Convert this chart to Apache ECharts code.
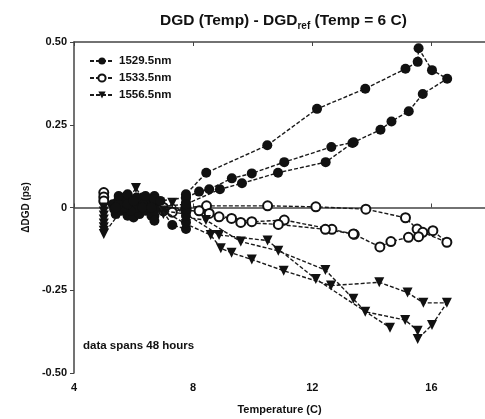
<!DOCTYPE html>
<html>
<head>
<meta charset="utf-8">
<script src="https://cdn.jsdelivr.net/npm/echarts@6/dist/echarts.min.js"></script>
<style>
  html, body { margin: 0; padding: 0; background: #fff; }
  #chart { width: 485px; height: 419px; }
</style>
</head>
<body>
<div id="chart"></div>
<script>
var temp1529 = [5.3,5.4,5.5,5.6,5.7,5.8,5.9,6.0,6.1,6.2,6.3,6.4,6.5,6.6,6.7,6.7,6.7,6.7,6.7,
  6.5,6.3,6.1,5.9,5.7,5.5,5.35,5.5,5.8,6.1,6.4,6.7,7.3,7.76,7.76,7.76,7.76,7.76,7.76,7.76,
  8.44,10.49,12.16,13.78,15.13,15.54,15.57,16.02,16.53,15.71,15.24,14.66,14.29,13.39,12.64,11.06,9.97,9.30,8.54,8.2,
  7.76,6.9,6.3,5.8,5.4,6.0,6.6,7.76,
  8.9,9.64,10.85,12.45,13.35];
var dgd1529 = [0.01,-0.02,0.025,-0.01,0.03,-0.025,0.02,-0.03,0.01,-0.02,0.03,-0.01,0.02,-0.025,0.035,0.015,-0.005,-0.025,-0.04,
  0.0,0.01,0.0,-0.01,0.0,0.01,-0.005,0.035,0.04,0.03,0.035,0.025,-0.053,-0.065,-0.045,-0.025,-0.005,0.015,0.03,0.04,
  0.105,0.188,0.298,0.359,0.419,0.44,0.481,0.415,0.389,0.343,0.291,0.260,0.235,0.197,0.183,0.137,0.103,0.088,0.055,0.048,
  0.03,0.02,0.0,0.01,0.0,0.02,0.0,0.01,
  0.055,0.073,0.105,0.137,0.195];

var temp1533 = [5.0,5.0,5.0,5.4,5.8,6.2,6.6,7.0,7.3,7.76,
  8.45,10.50,12.12,13.80,15.13,15.52,16.05,16.52,15.71,15.57,15.23,14.64,14.27,13.41,12.66,11.06,9.97,9.29,8.54,8.2,
  7.76,7.0,6.4,7.76,
  8.87,9.60,10.86,12.44,13.38];
var dgd1533 = [0.045,0.032,0.02,0.01,-0.005,0.0,0.01,-0.01,-0.014,0.0,
  0.005,0.005,0.002,-0.005,-0.031,-0.065,-0.070,-0.105,-0.075,-0.088,-0.09,-0.103,-0.119,-0.081,-0.066,-0.038,-0.043,-0.033,-0.018,-0.01,
  -0.01,0.0,0.01,-0.005,
  -0.028,-0.045,-0.051,-0.066,-0.08];

var temp1556 = [5.0,5.0,5.0,5.0,5.0,5.0,5.0,5.0,5.5,6.08,6.5,7.0,7.3,7.76,
  8.43,9.60,10.86,12.44,13.38,13.78,15.12,15.54,15.54,16.02,16.52,15.73,15.2,14.25,12.63,11.04,9.97,9.29,8.93,8.59,
  7.76,7.0,7.76,
  8.87,10.50,12.12,14.61];
var dgd1556 = [0.0,-0.012,-0.024,-0.036,-0.048,-0.06,-0.07,-0.08,-0.02,0.059,0.0,-0.02,0.014,-0.03,
  -0.038,-0.103,-0.131,-0.189,-0.276,-0.315,-0.340,-0.372,-0.397,-0.355,-0.288,-0.288,-0.257,-0.226,-0.236,-0.191,-0.157,-0.137,-0.123,-0.083,
  -0.05,-0.01,-0.02,
  -0.083,-0.100,-0.216,-0.363];

var seriesNames = ['1529.5nm', '1533.5nm', '1556.5nm'];

function pairs(xs, ys) {
  var out = [];
  for (var i = 0; i < xs.length; i++) out.push([xs[i], ys[i]]);
  return out;
}

var font = 'Liberation Sans';
var dash = { color: '#1a1a1a', width: 1.4, type: [4, 2] };

var drawCharts = echarts.init(document.getElementById('chart'));
var option = {
  animation: false,
  textStyle: { fontFamily: font },
  title: {
    text: '{a|DGD (Temp) - DGD}{s|ref}{a| (Temp = 6 C)}',
    left: 155,
    top: 5,
    textStyle: {
      rich: {
        a: { fontFamily: font, fontSize: 15.5, fontWeight: 'bold', color: '#111' },
        s: { fontFamily: font, fontSize: 10, fontWeight: 'bold', color: '#111', padding: [11, 0, 0, 0] }
      }
    }
  },
  legend: {
    data: seriesNames,
    orient: 'vertical',
    left: 84,
    top: 50,
    itemWidth: 24,
    itemHeight: 9,
    itemGap: 5,
    textStyle: { fontFamily: font, fontSize: 11.5, fontWeight: 'bold', color: '#111' }
  },
  grid: { left: 74, right: 0, top: 42, bottom: 46, outerBoundsMode: 'none' },
  xAxis: [
    {
      type: 'value',
      min: 4,
      max: 17.8,
      interval: 4,
      name: 'Temperature (C)',
      nameLocation: 'middle',
      nameGap: 31,
      nameTextStyle: { fontFamily: font, fontSize: 11, fontWeight: 'bold', color: '#111' },
      axisLine: { lineStyle: { color: '#444', width: 1.5 } },
      axisTick: { inside: true, length: 4, lineStyle: { color: '#444' } },
      axisLabel: { showMaxLabel: false, margin: 9, fontFamily: font, fontSize: 11, fontWeight: 'bold', color: '#111' },
      splitLine: { show: false }
    },
    {
      type: 'value',
      position: 'top',
      min: 4,
      max: 17.8,
      interval: 4,
      axisLine: { lineStyle: { color: '#444', width: 1.5 } },
      axisTick: { inside: true, length: 4, lineStyle: { color: '#444' } },
      axisLabel: { show: false },
      splitLine: { show: false }
    }
  ],
  yAxis: {
    type: 'value',
    min: -0.5,
    max: 0.5,
    interval: 0.25,
    name: 'ΔDGD (ps)',
    nameLocation: 'middle',
    nameGap: 32,
    nameTextStyle: { fontFamily: font, fontSize: 10, fontWeight: 'bold', color: '#111' },
    axisLine: { show: true, lineStyle: { color: '#444', width: 1.5 } },
    axisTick: { show: true, length: 4, lineStyle: { color: '#444' } },
    axisLabel: {
      margin: 7,
      fontFamily: font, fontSize: 11, fontWeight: 'bold', color: '#111',
      formatter: function (v) { return v === 0 ? '0' : v.toFixed(2); }
    },
    splitLine: { show: false }
  },
  graphic: [
    {
      type: 'text',
      left: 83,
      top: 340,
      style: { text: 'data spans 48 hours', font: 'bold 11.5px "Liberation Sans"', fill: '#111' }
    }
  ],
  series: [
    {
      name: seriesNames[1],
      type: 'line',
      data: pairs(temp1533, dgd1533),
      symbol: 'emptyCircle',
      symbolSize: 9,
      itemStyle: { color: '#111', borderWidth: 1.5 },
      lineStyle: dash,
      z: 2
    },
    {
      name: seriesNames[2],
      type: 'line',
      data: pairs(temp1556, dgd1556),
      symbol: 'triangle',
      symbolRotate: 180,
      symbolSize: 10,
      itemStyle: { color: '#111' },
      lineStyle: dash,
      z: 3
    },
    {
      name: seriesNames[0],
      type: 'line',
      data: pairs(temp1529, dgd1529),
      symbol: 'circle',
      symbolSize: 10,
      itemStyle: { color: '#111' },
      lineStyle: dash,
      z: 4
    }
  ]
};
drawCharts.setOption(option);
</script>
</body>
</html>
